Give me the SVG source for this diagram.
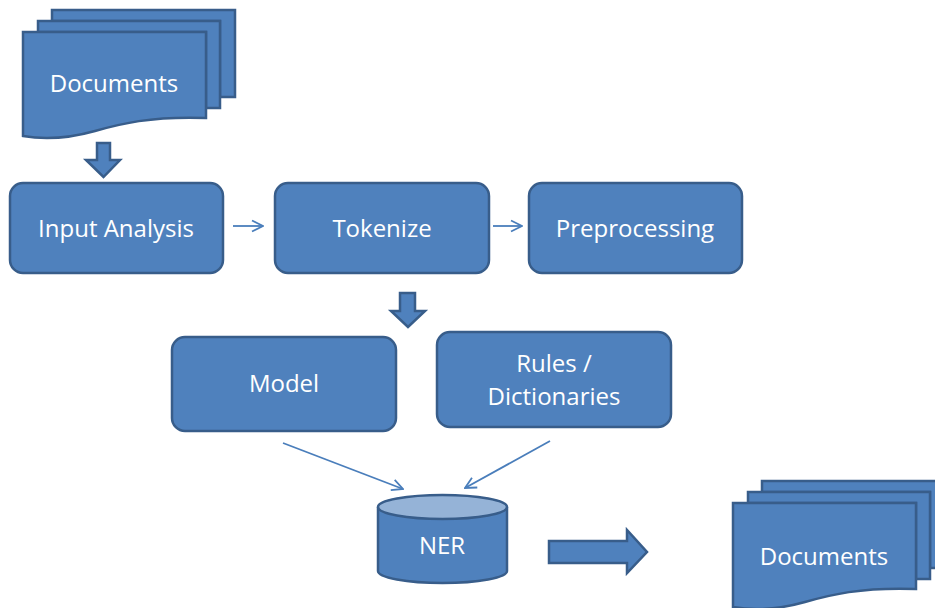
<svg xmlns="http://www.w3.org/2000/svg" width="935" height="608" viewBox="0 0 935 608">
  <defs>
    <style>
      .shape { fill: #4F81BD; stroke: #385D8A; stroke-width: 2.5; }
      .lid { fill: #95B3D7; stroke: #385D8A; stroke-width: 2.5; }
      .label { fill: #FFFFFF; font-family: "Open Sans", "Liberation Sans", sans-serif; font-size: 24px; text-anchor: middle; }
      .thin { fill: none; stroke: #4A7EBB; stroke-width: 1.8; marker-end: url(#head); }
    </style>
    <marker id="head" viewBox="0 0 14 14" refX="13" refY="7" markerWidth="14" markerHeight="14" markerUnits="userSpaceOnUse" orient="auto">
      <path d="M2,1.5 L13,7 L2,12.5" fill="none" stroke="#4A7EBB" stroke-width="1.8"/>
    </marker>
    <!-- stacked document sheets, top-left origin -->
    <g id="docStack">
      <path class="shape" d="M52,10 H235 V97 H220 V21 H52 Z"/>
      <path class="shape" d="M38,21 H220 V108 H206 V32 H38 Z"/>
      <path class="shape" d="M23,32 H206 V118 C150,116 120,124 95,131 C70,138 45,140 23,136 Z"/>
    </g>
  </defs>

  <rect width="935" height="608" fill="#FFFFFF"/>

  <g id="documents-in">
    <use href="#docStack"/>
    <text class="label" x="114" y="92">Documents</text>
  </g>

  <g id="input-analysis">
    <rect class="shape" x="10" y="183" width="213" height="90" rx="13"/>
    <text class="label" x="116" y="237">Input Analysis</text>
  </g>

  <g id="tokenize">
    <rect class="shape" x="275" y="183" width="214" height="90" rx="13"/>
    <text class="label" x="382" y="237">Tokenize</text>
  </g>

  <g id="preprocessing">
    <rect class="shape" x="529" y="183" width="213" height="90" rx="13"/>
    <text class="label" x="635" y="237">Preprocessing</text>
  </g>

  <g id="model">
    <rect class="shape" x="172" y="337" width="224" height="94" rx="13"/>
    <text class="label" x="284" y="392">Model</text>
  </g>

  <g id="rules-dictionaries">
    <rect class="shape" x="437" y="332" width="234" height="95" rx="13"/>
    <text class="label" x="554" y="372">Rules /</text>
    <text class="label" x="554" y="405">Dictionaries</text>
  </g>

  <g id="ner">
    <path class="shape" d="M378,507 V571 A64.5,12 0 0 0 507,571 V507"/>
    <ellipse class="lid" cx="442.5" cy="507" rx="64.5" ry="12"/>
    <text class="label" x="442" y="554">NER</text>
  </g>

  <g id="documents-out">
    <use href="#docStack" transform="translate(710,471)"/>
    <text class="label" x="824" y="565">Documents</text>
  </g>

  <g id="connectors">
    <!-- block arrows -->
    <path class="shape" d="M97,143 H110 V160 H120 L103.5,177 L86,160 H97 Z"/>
    <path class="shape" d="M400,293 H415 V311 H425 L408,327 L391,311 H400 Z"/>
    <path class="shape" d="M549,541 H627 V530 L647,552 L627,573 V563 H549 Z"/>
    <!-- thin arrows -->
    <line class="thin" x1="233" y1="226" x2="263" y2="226"/>
    <line class="thin" x1="493" y1="226" x2="522" y2="226"/>
    <line class="thin" x1="283" y1="443" x2="403" y2="489"/>
    <line class="thin" x1="550" y1="441" x2="465" y2="488"/>
  </g>
</svg>
